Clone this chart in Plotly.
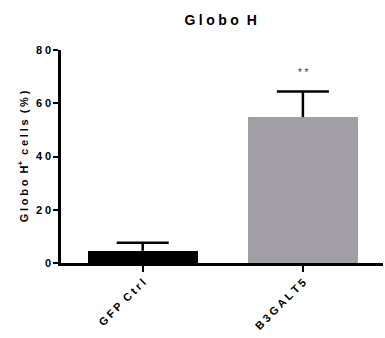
import plotly.graph_objects as go

# Data
groups = ["GFP Ctrl", "B3GALT5"]
values = [4.6, 54.8]
errors_up = [3.0, 9.6]
bar_colors = ["#000000", "#a19fa5"]
significance = ["", "**"]

y_ticks = [0, 20, 40, 60, 80]

font_family = "Liberation Sans, Arial, sans-serif"
GAP = "\u2005"       # four-per-em space used as letter spacing
WORD = "\u00a0\u00a0"  # non-collapsing gap between words


def spaced(s):
    return WORD.join(GAP.join(w) for w in s.split(" "))


positions = list(range(len(groups)))
cap_half = 0.1625

fig = go.Figure()
fig.add_trace(go.Bar(
    x=positions,
    y=values,
    width=0.6875,
    marker=dict(color=bar_colors, line=dict(width=0)),
    showlegend=False,
    hoverinfo="skip",
))

# Upper error bars: stem from the bar top plus a horizontal cap
ex, ey = [], []
for p, v, e in zip(positions, values, errors_up):
    ex += [p, p, None, p - cap_half, p + cap_half, None]
    ey += [v, v + e, None, v + e, v + e, None]
fig.add_trace(go.Scatter(
    x=ex, y=ey, mode="lines",
    line=dict(color="#000000", width=2.5),
    showlegend=False, hoverinfo="skip",
))

for p, v, e, s in zip(positions, values, errors_up, significance):
    if s:
        fig.add_annotation(
            x=p, y=v + e, yshift=19, text=spaced(s), showarrow=False,
            font=dict(family=font_family, size=10, color="#333333"),
        )

fig.update_layout(
    width=385,
    height=338,
    margin=dict(l=61, r=2, t=50, b=75),
    paper_bgcolor="white",
    plot_bgcolor="white",
    title=dict(
        text="<b>" + spaced("Globo H") + "</b>",
        x=0.573, xanchor="center",
        y=0.94, yanchor="middle",
        font=dict(family=font_family, size=14, color="#000000"),
    ),
    bargap=0,
)

fig.update_xaxes(
    range=[-0.51, 1.5],
    tickvals=positions,
    ticktext=["<b>" + spaced(g) + "</b>" for g in groups],
    showline=True, linecolor="#000000", linewidth=2.5,
    ticks="outside", ticklen=6, tickwidth=2, tickcolor="#000000",
    tickangle=-45,
    tickfont=dict(family=font_family, size=11, color="#000000"),
    showgrid=False, zeroline=False,
)

fig.update_yaxes(
    range=[0, 80],
    tickvals=y_ticks,
    ticktext=["<b>" + spaced(str(t)) + "</b>" for t in y_ticks],
    showline=True, linecolor="#000000", linewidth=2.5,
    ticks="outside", ticklen=5, tickwidth=2, tickcolor="#000000",
    tickfont=dict(family=font_family, size=11, color="#000000"),
    showgrid=False, zeroline=False,
    title=dict(
        text="<b>" + spaced("Globo H") + "<sup>+</sup>" + WORD
             + spaced("cells (%)") + "</b>",
        font=dict(family=font_family, size=11, color="#000000"),
        standoff=6,
    ),
)

fig.write_html("out.html")
